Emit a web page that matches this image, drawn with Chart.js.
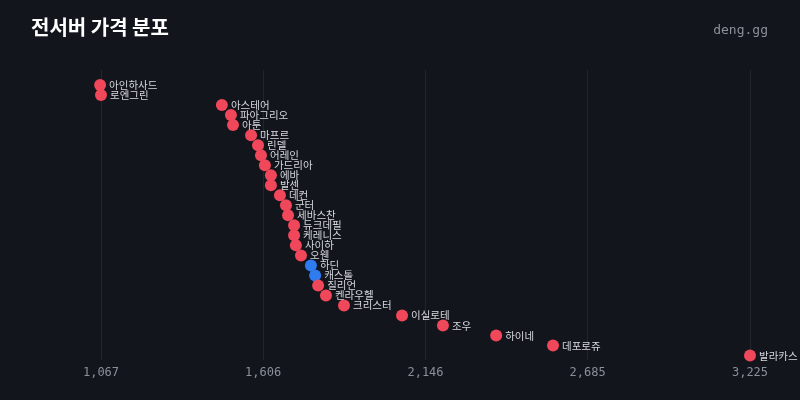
<!DOCTYPE html>
<html><head><meta charset="utf-8">
<script src="https://cdn.jsdelivr.net/npm/chart.js@4"></script>
<style>html,body{margin:0;background:#12151b;}#w{position:relative;width:800px;height:400px;}
#t{position:absolute;left:31px;top:12px;color:#fff;font:bold 20px "Noto Sans CJK KR";}
#s{position:absolute;right:32px;top:22px;color:#8a9099;font:13px "DejaVu Sans Mono";}</style>
</head><body><div id="w"><div id="t">전서버 가격 분포</div><div id="s">deng.gg</div><canvas id="c" width="800" height="400"></canvas></div>
<script>
const servers=["아인하사드","로엔그린","아스테어","파아그리오","아툰","마프르","린델","어레인","가드리아","에바","발센","데컨","군터","세바스찬","듀크데필","케레니스","사이하","오웬","하딘","캐스톨","질리언","켄라우헬","크리스터","이실로테","조우","하이네","데포로쥬","발라카스"];
const prices=[1064,1067,1469,1499,1506,1566,1589,1599,1612,1632,1632,1662,1682,1689,1709,1709,1715,1732,1765,1779,1789,1815,1875,2068,2204,2381,2570,3225];
const highlighted=["하딘","캐스톨"];
const tickVals=[1067,1606,2146,2685,3225];
const pts=prices.map((p,i)=>({x:p,y:i}));
const colors=servers.map(s=>highlighted.includes(s)?"#2f7cf0":"#f0475a");
const labelPlugin={id:"lbl",afterDatasetsDraw(ch){const ctx=ch.ctx;const m=ch.getDatasetMeta(0);ctx.save();ctx.font='10.5px "Noto Sans CJK KR"';ctx.fillStyle="#d6d9de";ctx.textBaseline="middle";m.data.forEach((e,i)=>ctx.fillText(servers[i],e.x+9,e.y));ctx.restore();}};
new Chart(document.getElementById("c"),{type:"scatter",data:{datasets:[{data:pts,backgroundColor:colors,borderWidth:0,pointRadius:6,pointHoverRadius:6,clip:false}]},
options:{responsive:false,animation:false,layout:{padding:{left:101,right:50,top:70,bottom:14}},
plugins:{legend:{display:false},tooltip:{enabled:false}},
scales:{x:{type:"linear",min:1067,max:3225,afterBuildTicks(a){a.ticks=tickVals.map(v=>({value:v}));},
ticks:{color:"#8a9099",font:{family:"DejaVu Sans Mono",size:12},padding:6,callback:v=>v.toLocaleString("en-US")},
grid:{color:"rgba(255,255,255,0.07)",drawTicks:false},border:{display:false}},
y:{display:false,min:-1.5,max:27.4,reverse:true}}},plugins:[labelPlugin]});
</script></body></html>
